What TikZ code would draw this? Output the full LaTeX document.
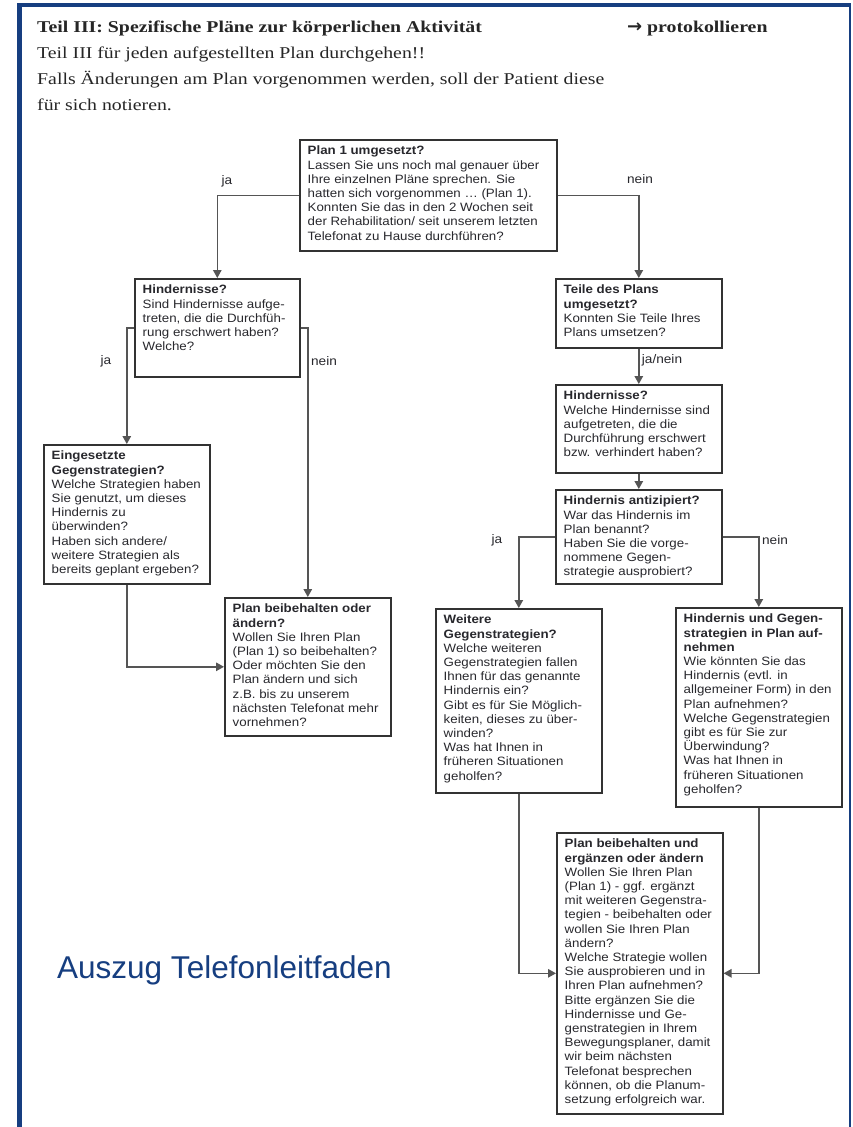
\documentclass[tikz,border=0pt]{standalone}
\usepackage{fontspec}
\setmainfont{Liberation Serif}[FakeStretch=1.2]
\newfontfamily\boxfont{Liberation Sans}[FakeStretch=1.1]
\newfontfamily\capfont{Liberation Sans}
\newfontfamily\arrowfont{DejaVu Sans}
\usetikzlibrary{arrows.meta}
\definecolor{frameblue}{RGB}{22,62,128}
\definecolor{boxline}{RGB}{50,50,50}
\definecolor{linegray}{RGB}{85,85,85}
\definecolor{txt}{RGB}{40,40,45}
\begin{document}
\begin{tikzpicture}[x=1pt,y=-1pt,
  box/.style={draw=boxline, line width=1.6pt, anchor=north west, inner sep=0pt},
  boxtext/.style={anchor=north west, align=left, inner xsep=8.5pt, inner ysep=7pt,
    font=\boxfont\fontsize{12.1}{14.2}\selectfont, text=txt},
  conn/.style={draw=linegray, line width=1.4pt, -{Triangle[length=8pt,width=8.5pt]}},
  lbl/.style={font=\boxfont\fontsize{12.4}{14}\selectfont, text=txt, inner sep=0pt},
  head/.style={anchor=base west, inner sep=0pt, font=\fontsize{16.5}{16.5}\selectfont, text=black!85},
]
% page and frame
\fill[white] (0,0) rectangle (852,1127);
\useasboundingbox (0,0) rectangle (852,1127);
\fill[frameblue] (17,3) rectangle (22,1127);
\fill[frameblue] (17,3) rectangle (851,7);
\fill[frameblue] (848.5,3) rectangle (851,1127);

% heading lines
\node[head, font=\fontsize{16.5}{16.5}\selectfont\bfseries] (h1) at (37,32) {Teil III: Spezifische Pläne zur körperlichen Aktivität};
\node[head, font=\fontsize{16.5}{16.5}\selectfont\bfseries] (h1r) at (627,32) {{\arrowfont\bfseries\fontsize{18}{18}\selectfont →}\ protokollieren};
\node[head] (h2) at (37,58) {Teil III für jeden aufgestellten Plan durchgehen!!};
\node[head] (h3) at (37,84) {Falls Änderungen am Plan vorgenommen werden, soll der Patient diese};
\node[head] (h4) at (37,110) {für sich notieren.};

% boxes
\node[box, minimum width=257pt, minimum height=111pt] (A) at (299,139) {};
\node[box, minimum width=165pt, minimum height=98pt]  (B) at (134,278) {};
\node[box, minimum width=166pt, minimum height=139pt] (C) at (43,444) {};
\node[box, minimum width=166pt, minimum height=138pt] (D) at (224,597) {};
\node[box, minimum width=166pt, minimum height=69pt]  (E) at (555,278) {};
\node[box, minimum width=166pt, minimum height=88pt]  (F) at (555,384) {};
\node[box, minimum width=166pt, minimum height=94pt]  (G) at (555,489) {};
\node[box, minimum width=166pt, minimum height=184pt] (H) at (435,608) {};
\node[box, minimum width=166pt, minimum height=199pt] (I) at (675,607) {};
\node[box, minimum width=166pt, minimum height=281pt] (J) at (556,832) {};

% box texts
\node[boxtext] (At) at (A.north west) {\textbf{Plan 1 umgesetzt?}\\Lassen Sie uns noch mal genauer über\\Ihre einzelnen Pläne sprechen. Sie\\hatten sich vorgenommen … (Plan 1).\\Konnten Sie das in den 2 Wochen seit\\der Rehabilitation/ seit unserem letzten\\Telefonat zu Hause durchführen?};
\node[boxtext] (Bt) at (B.north west) {\textbf{Hindernisse?}\\Sind Hindernisse aufge-\\treten, die die Durchfüh-\\rung erschwert haben?\\Welche?};
\node[boxtext] (Ct) at (C.north west) {\textbf{Eingesetzte}\\\textbf{Gegenstrategien?}\\Welche Strategien haben\\Sie genutzt, um dieses\\Hindernis zu\\überwinden?\\Haben sich andere/\\weitere Strategien als\\bereits geplant ergeben?};
\node[boxtext] (Dt) at (D.north west) {\textbf{Plan beibehalten oder}\\\textbf{ändern?}\\Wollen Sie Ihren Plan\\(Plan 1) so beibehalten?\\Oder möchten Sie den\\Plan ändern und sich\\z.B. bis zu unserem\\nächsten Telefonat mehr\\vornehmen?};
\node[boxtext] (Et) at (E.north west) {\textbf{Teile des Plans}\\\textbf{umgesetzt?}\\Konnten Sie Teile Ihres\\Plans umsetzen?};
\node[boxtext] (Ft) at (F.north west) {\textbf{Hindernisse?}\\Welche Hindernisse sind\\aufgetreten, die die\\Durchführung erschwert\\bzw. verhindert haben?};
\node[boxtext] (Gt) at (G.north west) {\textbf{Hindernis antizipiert?}\\War das Hindernis im\\Plan benannt?\\Haben Sie die vorge-\\nommene Gegen-\\strategie ausprobiert?};
\node[boxtext] (Ht) at (H.north west) {\textbf{Weitere}\\\textbf{Gegenstrategien?}\\Welche weiteren\\Gegenstrategien fallen\\Ihnen für das genannte\\Hindernis ein?\\Gibt es für Sie Möglich-\\keiten, dieses zu über-\\winden?\\Was hat Ihnen in\\früheren Situationen\\geholfen?};
\node[boxtext] (It) at (I.north west) {\textbf{Hindernis und Gegen-}\\\textbf{strategien in Plan auf-}\\\textbf{nehmen}\\Wie könnten Sie das\\Hindernis (evtl. in\\allgemeiner Form) in den\\Plan aufnehmen?\\Welche Gegenstrategien\\gibt es für Sie zur\\Überwindung?\\Was hat Ihnen in\\früheren Situationen\\geholfen?};
\node[boxtext] (Jt) at (J.north west) {\textbf{Plan beibehalten und}\\\textbf{ergänzen oder ändern}\\Wollen Sie Ihren Plan\\(Plan 1) - ggf. ergänzt\\mit weiteren Gegenstra-\\tegien - beibehalten oder\\wollen Sie Ihren Plan\\ändern?\\Welche Strategie wollen\\Sie ausprobieren und in\\Ihren Plan aufnehmen?\\Bitte ergänzen Sie die\\Hindernisse und Ge-\\genstrategien in Ihrem\\Bewegungsplaner, damit\\wir beim nächsten\\Telefonat besprechen\\können, ob die Planum-\\setzung erfolgreich war.};

% connectors
\draw[conn] (A.west) -| (B.north);
\draw[conn] (A.east) -| (E.north);
\draw[conn] (B.west) -| (C.north);
\draw[conn] (B.east) -| (D.north);
\draw[conn] (C.south) |- (D.west);
\draw[conn] (E.south) -- (F.north);
\draw[conn] (F.south) -- (G.north);
\draw[conn] (G.west) -| (H.north);
\draw[conn] (G.east) -| (I.north);
\draw[conn] (H.south) |- (J.west);
\draw[conn] (I.south) |- (J.east);

% connector labels
\node[lbl] (l1) at (227,181) {ja};
\node[lbl] (l2) at (640,179) {nein};
\node[lbl] (l3) at (106,361) {ja};
\node[lbl] (l4) at (324,361) {nein};
\node[lbl] (l5) at (662,360) {ja/nein};
\node[lbl] (l6) at (497,540) {ja};
\node[lbl] (l7) at (775,540) {nein};

% caption
\node[anchor=base west, inner sep=0pt, font=\capfont\fontsize{31.5}{32}\selectfont, text=frameblue] (cap) at (57,978) {Auszug Telefonleitfaden};
\end{tikzpicture}
\end{document}
